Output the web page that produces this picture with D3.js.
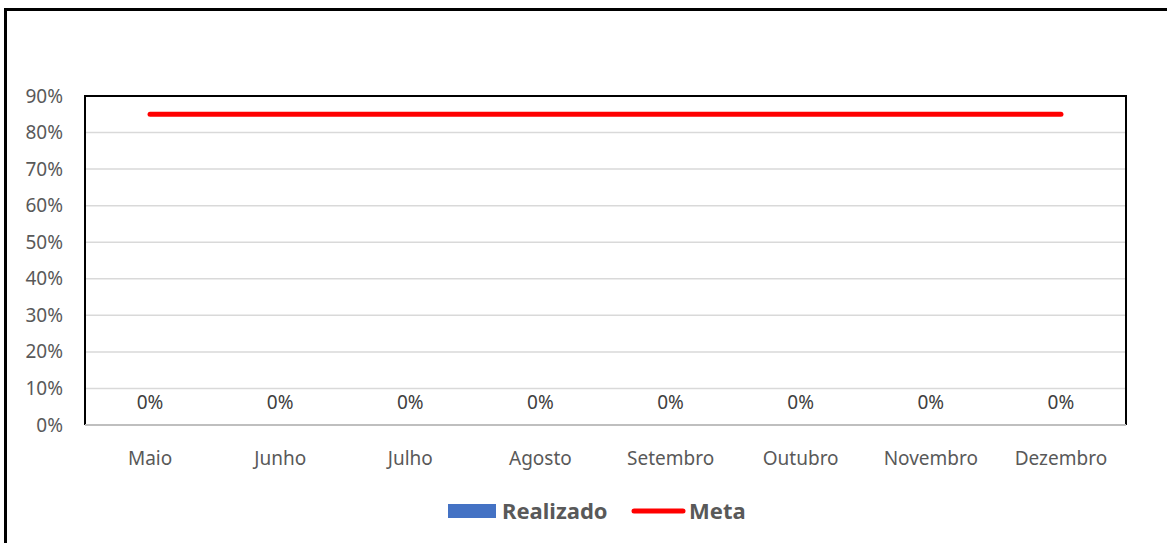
<!DOCTYPE html>
<html>
<head>
<meta charset="utf-8">
<script src="https://cdn.jsdelivr.net/npm/d3@7"></script>
<style>
  html, body { margin: 0; padding: 0; background: #fff; }
  svg { display: block; }
</style>
</head>
<body>
<svg id="chart" width="1167" height="543"></svg>
<script>
const categories = ["Maio", "Junho", "Julho", "Agosto", "Setembro", "Outubro", "Novembro", "Dezembro"];
const realizado = [0, 0, 0, 0, 0, 0, 0, 0];
const meta = [0.85, 0.85, 0.85, 0.85, 0.85, 0.85, 0.85, 0.85];
const yTicks = [0, 0.1, 0.2, 0.3, 0.4, 0.5, 0.6, 0.7, 0.8, 0.9];
const legendLabels = ["Realizado", "Meta"];

const W = 1167, H = 543;
const plot = { left: 85, top: 96, right: 1126, bottom: 425 };
const FONT = "'Noto Sans', 'Open Sans', sans-serif";
const TXT = "#595959";

const svg = d3.select("#chart");

// outer frame (right and bottom edges run off the picture)
svg.append("rect")
  .attr("x", 5.5).attr("y", 9.5)
  .attr("width", W + 20).attr("height", H + 20)
  .attr("fill", "#fff").attr("stroke", "#000").attr("stroke-width", 3);

const x = d3.scaleBand().domain(categories).range([plot.left, plot.right]).paddingInner(0.35).paddingOuter(0.175);
const y = d3.scaleLinear().domain([0, 0.9]).range([plot.bottom, plot.top]);

// gridlines
svg.append("g").selectAll("line").data(yTicks.filter(d => d > 0 && d < 0.9)).join("line")
  .attr("x1", plot.left).attr("x2", plot.right)
  .attr("y1", d => y(d)).attr("y2", d => y(d))
  .attr("stroke", "#d9d9d9").attr("stroke-width", 1.5);

// plot border (left, top, right black)
svg.append("path")
  .attr("d", `M${plot.left},${plot.bottom} V${plot.top} H${plot.right} V${plot.bottom}`)
  .attr("fill", "none").attr("stroke", "#000").attr("stroke-width", 2);

// y axis labels
const yAxis = d3.axisLeft(y).tickValues(yTicks).tickFormat(d3.format(".0%")).tickSize(0).tickPadding(22);
const gy = svg.append("g").attr("transform", `translate(${plot.left},0)`).call(yAxis);
gy.select(".domain").remove();
gy.selectAll("text").attr("fill", TXT).style("font-family", FONT).style("font-size", "19px");

// bars (all zero)
svg.append("g").selectAll("rect").data(realizado).join("rect")
  .attr("x", (d, i) => x(categories[i]))
  .attr("width", x.bandwidth())
  .attr("y", d => y(d))
  .attr("height", d => y(0) - y(d))
  .attr("fill", "#4472C4");

// x axis
const xAxis = d3.axisBottom(x).tickSize(0).tickPadding(27);
const gx = svg.append("g").attr("transform", `translate(0,${plot.bottom})`).call(xAxis);
gx.select(".domain").attr("stroke", "#bfbfbf").attr("stroke-width", 2)
  .attr("d", `M${plot.left},0H${plot.right}`);
gx.selectAll("text").attr("fill", TXT).style("font-family", FONT).style("font-size", "19px");

// data labels
svg.append("g").selectAll("text").data(realizado).join("text")
  .attr("x", (d, i) => x(categories[i]) + x.bandwidth() / 2)
  .attr("y", d => y(d) - 16)
  .attr("text-anchor", "middle")
  .attr("fill", "#404040")
  .style("font-family", FONT).style("font-size", "19px")
  .text(d => d3.format(".0%")(d));

// meta line
const line = d3.line()
  .x((d, i) => x(categories[i]) + x.bandwidth() / 2)
  .y(d => y(d));
svg.append("path").datum(meta)
  .attr("d", line)
  .attr("fill", "none").attr("stroke", "#ff0000").attr("stroke-width", 5)
  .attr("stroke-linecap", "round");

// legend
const lg = svg.append("g");
lg.append("rect").attr("x", 448).attr("y", 504).attr("width", 48).attr("height", 14).attr("fill", "#4472C4");
lg.append("text").attr("x", 502).attr("y", 519).text(legendLabels[0])
  .attr("fill", TXT).style("font-family", FONT).style("font-size", "22px").style("font-weight", "bold");
lg.append("line").attr("x1", 634).attr("x2", 683).attr("y1", 511).attr("y2", 511)
  .attr("stroke", "#ff0000").attr("stroke-width", 5).attr("stroke-linecap", "round");
lg.append("text").attr("x", 689).attr("y", 519).text(legendLabels[1])
  .attr("fill", TXT).style("font-family", FONT).style("font-size", "22px").style("font-weight", "bold");
</script>
</body>
</html>
